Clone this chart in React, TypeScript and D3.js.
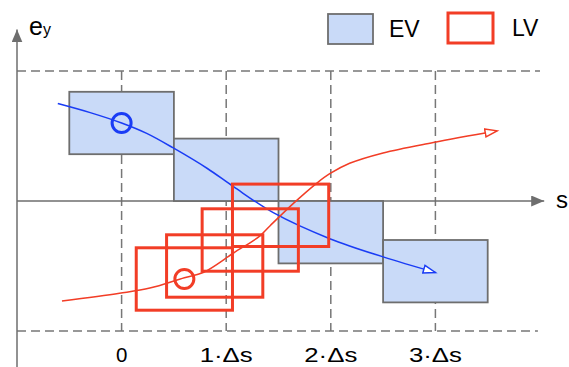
import React from "react";
import * as d3 from "d3";

// tick positions along s (in units of Δs) and their labels
const sTicks = [0, 1, 2, 3];
const sTickLabels = ["0", "1·Δs", "2·Δs", "3·Δs"];

// EV boxes: centre on s and ey
const evS = [0, 1, 2, 3];
const evEy = [0.6, 0.24, -0.24, -0.54];

// LV boxes: centre on s and ey
const lvS = [0.6, 0.89, 1.23, 1.52];
const lvEy = [-0.6, -0.5, -0.3, -0.11];

// trajectories [s, ey]
const evPath = [
  [-0.61, 0.75], [-0.3, 0.68], [0, 0.6], [0.24, 0.52], [0.49, 0.41],
  [0.82, 0.25], [1.07, 0.11], [1.45, -0.09], [1.99, -0.29], [2.5, -0.43], [3.0, -0.55],
];
const lvPath = [
  [-0.57, -0.77], [-0.02, -0.71], [0.27, -0.67], [0.6, -0.59], [0.78, -0.55],
  [1.07, -0.4], [1.32, -0.27], [1.42, -0.19], [1.64, -0.02], [1.87, 0.14],
  [1.99, 0.21], [2.18, 0.29], [2.5, 0.37], [2.98, 0.45], [3.59, 0.54],
];

const legendItems = ["EV", "LV"];

const width = 569;
const height = 367;

const GRAY = "#6e6e6e";
const EV_FILL = "#c9daf8";
const RED = "#f23d26";
const BLUE = "#1a3cf5";

export default function App() {
  const x = d3.scaleLinear().domain([-1, 4]).range([17, 540]);
  const y = d3.scaleLinear().domain([-1, 1]).range([331, 71]);

  const line = d3
    .line<number[]>()
    .x((d) => x(d[0]))
    .y((d) => y(d[1]))
    .curve(d3.curveCatmullRom.alpha(0.5));

  const boxW = x(1) - x(0);
  const boxH = y(0) - y(0.48);
  const lvW = x(0.92) - x(0);

  return (
    <svg
      width={width}
      height={height}
      style={{ position: "absolute", left: 0, top: 0, background: "#fff" }}
      fontFamily="'Liberation Sans', Arial, sans-serif"
    >
      <defs>
        <marker id="axisArrow" markerUnits="userSpaceOnUse" markerWidth="14" markerHeight="12"
          refX="13" refY="5.5" orient="auto">
          <path d="M0,0 L13,5.5 L0,11 Z" fill={GRAY} />
        </marker>
        <marker id="blueArrow" markerUnits="userSpaceOnUse" markerWidth="16" markerHeight="12"
          refX="13" refY="5" orient="auto">
          <path d="M1,1 L13,5 L1,9 Z" fill="#fff" stroke={BLUE} strokeWidth="1.5" />
        </marker>
        <marker id="redArrow" markerUnits="userSpaceOnUse" markerWidth="16" markerHeight="12"
          refX="13" refY="5" orient="auto">
          <path d="M1,1 L13,5 L1,9 Z" fill="#fff" stroke={RED} strokeWidth="1.5" />
        </marker>
      </defs>

      {/* dashed grid */}
      <g stroke="#777" strokeWidth={1.5} strokeDasharray="9,5" fill="none">
        <line x1={x(-1)} x2={x(4)} y1={y(1)} y2={y(1)} />
        <line x1={x(-1)} x2={x(3.98)} y1={y(-1)} y2={y(-1)} />
        {sTicks.map((t) => (
          <line key={t} x1={x(t)} x2={x(t)} y1={y(1)} y2={y(-1)} />
        ))}
      </g>

      {/* axes */}
      <line x1={x(-1)} x2={x(-1)} y1={height} y2={y(1.32)} stroke={GRAY} strokeWidth={1.5}
        markerEnd="url(#axisArrow)" />
      <line x1={x(-1)} x2={x(4.04)} y1={y(0)} y2={y(0)} stroke={GRAY} strokeWidth={1.5}
        markerEnd="url(#axisArrow)" />

      <text x={29} y={35} fontSize={25} fill="#000">
        e<tspan fontSize={16}>y</tspan>
      </text>
      <text x={556} y={208} fontSize={24} fill="#000">s</text>

      {/* tick labels */}
      {sTicks.map((t, i) => (
        <text key={t} x={x(t)} y={362} fontSize={20.5} textAnchor="middle" fill="#000"
          textLength={i === 0 ? undefined : 53} lengthAdjust="spacingAndGlyphs">
          {sTickLabels[i]}
        </text>
      ))}

      {/* EV boxes */}
      {evS.map((s, i) => (
        <rect key={i} x={x(s) - boxW / 2} y={y(evEy[i]) - boxH / 2} width={boxW} height={boxH}
          fill={EV_FILL} stroke={GRAY} strokeWidth={1.8} />
      ))}

      {/* EV trajectory */}
      <path d={line(evPath) ?? ""} fill="none" stroke={BLUE} strokeWidth={1.5}
        markerEnd="url(#blueArrow)" />
      <circle cx={x(evS[0])} cy={y(evEy[0])} r={9.5} fill="none" stroke={BLUE} strokeWidth={3} />

      {/* LV boxes */}
      {lvS.map((s, i) => (
        <rect key={i} x={x(s) - lvW / 2} y={y(lvEy[i]) - boxH / 2} width={lvW} height={boxH}
          fill="none" stroke={RED} strokeWidth={3} />
      ))}

      {/* LV trajectory */}
      <path d={line(lvPath) ?? ""} fill="none" stroke={RED} strokeWidth={1.5}
        markerEnd="url(#redArrow)" />
      <circle cx={x(lvS[0])} cy={y(lvEy[0])} r={9.5} fill="none" stroke={RED} strokeWidth={3} />

      {/* legend */}
      {legendItems.map((label, i) => (
        <g key={label} transform={`translate(${i === 0 ? 328 : 448},${i === 0 ? 14 : 13})`}>
          <rect width={45} height={30} fill={i === 0 ? EV_FILL : "#fff"}
            stroke={i === 0 ? GRAY : RED} strokeWidth={i === 0 ? 1.8 : 3} />
          <text x={i === 0 ? 61 : 64} y={23} fontSize={23} fill="#000">{label}</text>
        </g>
      ))}
    </svg>
  );
}
